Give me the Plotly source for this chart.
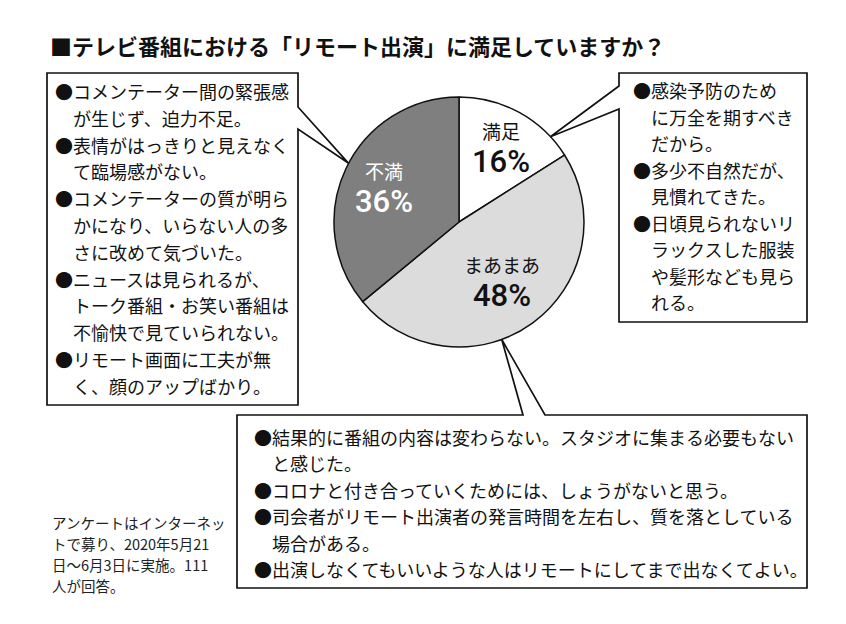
import math
import plotly.graph_objects as go

# page body has an 8px margin: the figure is sized so that it fills the window exactly
OFF = 8
W, H = 846 - OFF, 624 - OFF

# ---------------- data ----------------
title = "■テレビ番組における「リモート出演」に満足していますか？"
categories = ["満足", "まあまあ", "不満"]
values = [16, 48, 36]

comments_satisfied = [
    ["感染予防のため", "に万全を期すべき", "だから。"],
    ["多少不自然だが、", "見慣れてきた。"],
    ["日頃見られないリ", "ラックスした服装", "や髪形なども見ら", "れる。"],
]
comments_neutral = [
    ["結果的に番組の内容は変わらない。スタジオに集まる必要もない", "と感じた。"],
    ["コロナと付き合っていくためには、しょうがないと思う。"],
    ["司会者がリモート出演者の発言時間を左右し、質を落としている", "場合がある。"],
    ["出演しなくてもいいような人はリモートにしてまで出なくてよい。"],
]
comments_dissatisfied = [
    ["コメンテーター間の緊張感", "が生じず、迫力不足。"],
    ["表情がはっきりと見えなく", "て臨場感がない。"],
    ["コメンテーターの質が明ら", "かになり、いらない人の多", "さに改めて気づいた。"],
    ["ニュースは見られるが、", "トーク番組・お笑い番組は", "不愉快で見ていられない。"],
    ["リモート画面に工夫が無", "く、顔のアップばかり。"],
]
footnote = ["アンケートはインターネッ", "トで募り、2020年5月21", "日〜6月3日に実施。111", "人が回答。"]

# ---------------- style ----------------
slice_colors = ["#ffffff", "#dcdcdc", "#7f7f7f"]
label_colors = ["#111111", "#111111", "#ffffff"]
label_rfrac = [0.69, 0.58, 0.66]
JP = "Noto Sans CJK JP"
NUM = "Roboto"

CX, CY, R = 459, 222, 125


def px(x):
    return (x - OFF) / W


def py(y):
    return 1 - (y - OFF) / H


fig = go.Figure()
fig.add_trace(go.Pie(
    labels=categories, values=values, sort=False, direction="clockwise", rotation=0,
    marker=dict(colors=slice_colors, line=dict(color="#111111", width=1.5)),
    textinfo="none", hoverinfo="label+percent", showlegend=False,
    domain=dict(x=[px(CX - R), px(CX + R)], y=[py(CY + R), py(CY - R)]),
))

ann = []
total = sum(values)
cum = 0
for i, (c, v) in enumerate(zip(categories, values)):
    mid = (cum + v / 2) / total * 2 * math.pi
    cum += v
    r = R * label_rfrac[i]
    lx = CX + r * math.sin(mid)
    ly = CY - r * math.cos(mid)
    ann.append(dict(x=px(lx), y=py(ly - 16), text=c, showarrow=False,
                    font=dict(family=JP, size=19, color=label_colors[i]),
                    xanchor="center", yanchor="middle"))
    ann.append(dict(x=px(lx), y=py(ly + 15), text=f"{v}%", showarrow=False,
                    font=dict(family=NUM, size=31, color=label_colors[i], weight=500),
                    xanchor="center", yanchor="middle"))


def tip(deg):
    a = math.radians(deg)
    return CX + R * math.sin(a), CY - R * math.cos(a)


def path(points):
    return "M " + " L ".join(f"{px(x):.5f},{py(y):.5f}" for x, y in points) + " Z"


tl = tip(298)
tr = tip(47)
tb = tip(160)
boxes = [
    [(47, 73), (298, 73), (298, 107), tl, (298, 129), (298, 405), (47, 405)],
    [(619, 73), (807, 73), (807, 322), (619, 322), (619, 109), tr, (619, 86)],
    [(237, 415), (523, 415), tb, (545, 415), (807, 415), (807, 588), (237, 588)],
]
shapes = [dict(type="path", xref="paper", yref="paper", path=path(b),
               fillcolor="white", line=dict(color="#111111", width=1.7), layer="above")
          for b in boxes]


def add_comments(items, x0, y0, dy, size=18):
    y = y0
    for item in items:
        for j, line in enumerate(item):
            txt = ("●" + line) if j == 0 else line
            x = x0 if j == 0 else x0 + size
            ann.append(dict(x=px(x), y=py(y), text=txt, showarrow=False,
                            font=dict(family=JP, size=size, color="#111111"),
                            xanchor="left", yanchor="middle"))
            y += dy


add_comments(comments_dissatisfied, 53, 91, 26.8)
add_comments(comments_satisfied, 631, 90, 26.5)
add_comments(comments_neutral, 252, 437, 26.4)

for k, line in enumerate(footnote):
    ann.append(dict(x=px(50), y=py(522 + k * 21.3), text=line, showarrow=False,
                    font=dict(family=JP, size=14.5, color="#222222"),
                    xanchor="left", yanchor="middle"))

ann.append(dict(x=px(48), y=py(45), text=title, showarrow=False,
                font=dict(family=JP, size=22, color="#111111", weight=700),
                xanchor="left", yanchor="middle"))

fig.update_layout(
    width=W, height=H, autosize=False,
    margin=dict(l=0, r=0, t=0, b=0),
    paper_bgcolor="white", plot_bgcolor="white",
    annotations=ann, shapes=shapes,
)
fig.write_html("out.html")
